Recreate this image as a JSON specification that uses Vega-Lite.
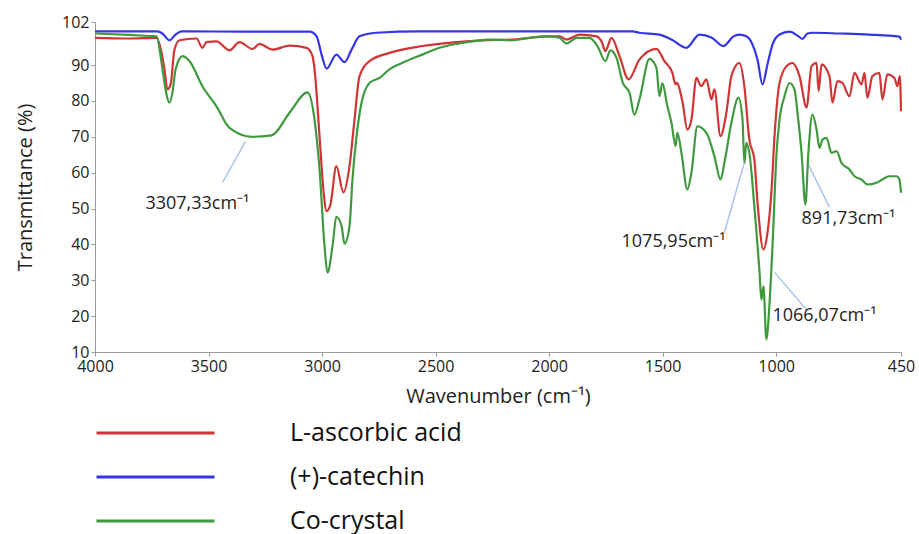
{
  "$schema": "https://vega.github.io/schema/vega-lite/v6.json",
  "width": 806,
  "height": 330,
  "autosize": {"type": "none"},
  "padding": {"left": 95, "top": 22, "right": 18, "bottom": 182},
  "background": "white",
  "config": {
    "view": {"stroke": null},
    "font": "Open Sans",
    "axis": {"grid": false, "domainColor": "#9a9a9a", "tickColor": "#9a9a9a", "labelColor": "#222", "titleColor": "#222", "labelFont": "Open Sans", "titleFont": "Open Sans", "titleFontWeight": "normal"}
  },
  "datasets": {
    "ir": [
      {"s":"(+)-catechin","w":4000,"t":99.4},{"s":"(+)-catechin","w":3725,"t":99.4},{"s":"(+)-catechin","w":3703,"t":98.8},{"s":"(+)-catechin","w":3672,"t":96.9},{"s":"(+)-catechin","w":3645,"t":98.5},{"s":"(+)-catechin","w":3619,"t":99.4},{"s":"(+)-catechin","w":3320,"t":99.3},{"s":"(+)-catechin","w":3055,"t":99.3},{"s":"(+)-catechin","w":3024,"t":98.0},{"s":"(+)-catechin","w":3002,"t":92.9},{"s":"(+)-catechin","w":2980,"t":89.0},{"s":"(+)-catechin","w":2937,"t":92.9},{"s":"(+)-catechin","w":2901,"t":90.8},{"s":"(+)-catechin","w":2870,"t":94.3},{"s":"(+)-catechin","w":2835,"t":98.0},{"s":"(+)-catechin","w":2760,"t":99.0},{"s":"(+)-catechin","w":2571,"t":99.4},{"s":"(+)-catechin","w":1633,"t":99.4},{"s":"(+)-catechin","w":1602,"t":99.0},{"s":"(+)-catechin","w":1514,"t":98.5},{"s":"(+)-catechin","w":1461,"t":97.1},{"s":"(+)-catechin","w":1395,"t":94.8},{"s":"(+)-catechin","w":1338,"t":98.5},{"s":"(+)-catechin","w":1285,"t":97.7},{"s":"(+)-catechin","w":1232,"t":95.3},{"s":"(+)-catechin","w":1188,"t":98.0},{"s":"(+)-catechin","w":1162,"t":98.5},{"s":"(+)-catechin","w":1131,"t":98.0},{"s":"(+)-catechin","w":1104,"t":95.7},{"s":"(+)-catechin","w":1082,"t":91.5},{"s":"(+)-catechin","w":1060,"t":84.6},{"s":"(+)-catechin","w":1038,"t":90.2},{"s":"(+)-catechin","w":1016,"t":95.7},{"s":"(+)-catechin","w":985,"t":98.5},{"s":"(+)-catechin","w":941,"t":99.3},{"s":"(+)-catechin","w":906,"t":98.2},{"s":"(+)-catechin","w":884,"t":97.3},{"s":"(+)-catechin","w":862,"t":98.8},{"s":"(+)-catechin","w":840,"t":99.0},{"s":"(+)-catechin","w":721,"t":98.8},{"s":"(+)-catechin","w":589,"t":98.5},{"s":"(+)-catechin","w":457,"t":97.9},{"s":"(+)-catechin","w":450,"t":97.1},

      {"s":"L-ascorbic acid","w":4000,"t":97.6},{"s":"L-ascorbic acid","w":3848,"t":97.4},{"s":"L-ascorbic acid","w":3729,"t":97.6},{"s":"L-ascorbic acid","w":3707,"t":93.5},{"s":"L-ascorbic acid","w":3694,"t":88.8},{"s":"L-ascorbic acid","w":3681,"t":83.2},{"s":"L-ascorbic acid","w":3667,"t":84.6},{"s":"L-ascorbic acid","w":3650,"t":94.3},{"s":"L-ascorbic acid","w":3628,"t":96.9},{"s":"L-ascorbic acid","w":3553,"t":97.4},{"s":"L-ascorbic acid","w":3527,"t":94.8},{"s":"L-ascorbic acid","w":3509,"t":96.4},{"s":"L-ascorbic acid","w":3465,"t":96.6},{"s":"L-ascorbic acid","w":3408,"t":94.1},{"s":"L-ascorbic acid","w":3364,"t":96.4},{"s":"L-ascorbic acid","w":3306,"t":94.5},{"s":"L-ascorbic acid","w":3276,"t":95.9},{"s":"L-ascorbic acid","w":3218,"t":94.3},{"s":"L-ascorbic acid","w":3143,"t":95.4},{"s":"L-ascorbic acid","w":3068,"t":94.8},{"s":"L-ascorbic acid","w":3042,"t":92.5},{"s":"L-ascorbic acid","w":3033,"t":88.8},{"s":"L-ascorbic acid","w":3011,"t":70.2},{"s":"L-ascorbic acid","w":2994,"t":55.3},{"s":"L-ascorbic acid","w":2980,"t":49.3},{"s":"L-ascorbic acid","w":2963,"t":51.1},{"s":"L-ascorbic acid","w":2937,"t":61.8},{"s":"L-ascorbic acid","w":2906,"t":54.5},{"s":"L-ascorbic acid","w":2879,"t":61.8},{"s":"L-ascorbic acid","w":2857,"t":74.8},{"s":"L-ascorbic acid","w":2835,"t":86.9},{"s":"L-ascorbic acid","w":2791,"t":91.1},{"s":"L-ascorbic acid","w":2703,"t":93.4},{"s":"L-ascorbic acid","w":2558,"t":95.3},{"s":"L-ascorbic acid","w":2408,"t":96.4},{"s":"L-ascorbic acid","w":2293,"t":96.9},{"s":"L-ascorbic acid","w":2161,"t":97.1},{"s":"L-ascorbic acid","w":2011,"t":98.0},{"s":"L-ascorbic acid","w":1954,"t":98.0},{"s":"L-ascorbic acid","w":1923,"t":97.1},{"s":"L-ascorbic acid","w":1866,"t":98.5},{"s":"L-ascorbic acid","w":1791,"t":98.0},{"s":"L-ascorbic acid","w":1769,"t":96.6},{"s":"L-ascorbic acid","w":1752,"t":93.9},{"s":"L-ascorbic acid","w":1725,"t":97.6},{"s":"L-ascorbic acid","w":1690,"t":92.5},{"s":"L-ascorbic acid","w":1650,"t":86.0},{"s":"L-ascorbic acid","w":1602,"t":91.5},{"s":"L-ascorbic acid","w":1527,"t":94.5},{"s":"L-ascorbic acid","w":1492,"t":91.1},{"s":"L-ascorbic acid","w":1457,"t":87.8},{"s":"L-ascorbic acid","w":1443,"t":84.6},{"s":"L-ascorbic acid","w":1439,"t":85.1},{"s":"L-ascorbic acid","w":1412,"t":79.6},{"s":"L-ascorbic acid","w":1391,"t":72.0},{"s":"L-ascorbic acid","w":1373,"t":74.8},{"s":"L-ascorbic acid","w":1351,"t":86.4},{"s":"L-ascorbic acid","w":1330,"t":84.1},{"s":"L-ascorbic acid","w":1307,"t":86.0},{"s":"L-ascorbic acid","w":1285,"t":80.4},{"s":"L-ascorbic acid","w":1272,"t":83.2},{"s":"L-ascorbic acid","w":1245,"t":70.2},{"s":"L-ascorbic acid","w":1219,"t":76.8},{"s":"L-ascorbic acid","w":1197,"t":86.9},{"s":"L-ascorbic acid","w":1162,"t":90.6},{"s":"L-ascorbic acid","w":1140,"t":84.1},{"s":"L-ascorbic acid","w":1118,"t":69.2},{"s":"L-ascorbic acid","w":1096,"t":63.7},{"s":"L-ascorbic acid","w":1082,"t":51.7},{"s":"L-ascorbic acid","w":1056,"t":38.6},{"s":"L-ascorbic acid","w":1038,"t":43.3},{"s":"L-ascorbic acid","w":1020,"t":55.3},{"s":"L-ascorbic acid","w":1007,"t":70.2},{"s":"L-ascorbic acid","w":985,"t":85.0},{"s":"L-ascorbic acid","w":954,"t":89.7},{"s":"L-ascorbic acid","w":928,"t":90.6},{"s":"L-ascorbic acid","w":897,"t":86.9},{"s":"L-ascorbic acid","w":866,"t":78.2},{"s":"L-ascorbic acid","w":844,"t":89.7},{"s":"L-ascorbic acid","w":822,"t":90.6},{"s":"L-ascorbic acid","w":813,"t":82.7},{"s":"L-ascorbic acid","w":800,"t":90.2},{"s":"L-ascorbic acid","w":765,"t":86.9},{"s":"L-ascorbic acid","w":752,"t":79.5},{"s":"L-ascorbic acid","w":730,"t":85.5},{"s":"L-ascorbic acid","w":708,"t":85.0},{"s":"L-ascorbic acid","w":677,"t":81.3},{"s":"L-ascorbic acid","w":655,"t":87.8},{"s":"L-ascorbic acid","w":624,"t":84.6},{"s":"L-ascorbic acid","w":611,"t":87.8},{"s":"L-ascorbic acid","w":598,"t":80.9},{"s":"L-ascorbic acid","w":576,"t":86.9},{"s":"L-ascorbic acid","w":545,"t":87.8},{"s":"L-ascorbic acid","w":532,"t":80.4},{"s":"L-ascorbic acid","w":510,"t":87.4},{"s":"L-ascorbic acid","w":479,"t":86.4},{"s":"L-ascorbic acid","w":466,"t":84.1},{"s":"L-ascorbic acid","w":455,"t":86.9},{"s":"L-ascorbic acid","w":450,"t":77.1},

      {"s":"Co-crystal","w":4000,"t":98.8},{"s":"Co-crystal","w":3848,"t":98.4},{"s":"Co-crystal","w":3760,"t":98.1},{"s":"Co-crystal","w":3729,"t":98.0},{"s":"Co-crystal","w":3707,"t":90.7},{"s":"Co-crystal","w":3694,"t":85.1},{"s":"Co-crystal","w":3685,"t":81.8},{"s":"Co-crystal","w":3672,"t":79.5},{"s":"Co-crystal","w":3659,"t":82.3},{"s":"Co-crystal","w":3645,"t":88.8},{"s":"Co-crystal","w":3615,"t":92.5},{"s":"Co-crystal","w":3584,"t":91.1},{"s":"Co-crystal","w":3527,"t":84.1},{"s":"Co-crystal","w":3465,"t":78.5},{"s":"Co-crystal","w":3408,"t":72.5},{"s":"Co-crystal","w":3306,"t":70.0},{"s":"Co-crystal","w":3223,"t":70.4},{"s":"Co-crystal","w":3143,"t":76.7},{"s":"Co-crystal","w":3064,"t":82.4},{"s":"Co-crystal","w":3033,"t":74.8},{"s":"Co-crystal","w":3011,"t":60.9},{"s":"Co-crystal","w":2989,"t":39.5},{"s":"Co-crystal","w":2976,"t":32.1},{"s":"Co-crystal","w":2954,"t":39.5},{"s":"Co-crystal","w":2937,"t":47.7},{"s":"Co-crystal","w":2914,"t":45.1},{"s":"Co-crystal","w":2901,"t":40.2},{"s":"Co-crystal","w":2879,"t":45.1},{"s":"Co-crystal","w":2866,"t":58.1},{"s":"Co-crystal","w":2848,"t":70.2},{"s":"Co-crystal","w":2826,"t":79.5},{"s":"Co-crystal","w":2791,"t":85.0},{"s":"Co-crystal","w":2747,"t":86.4},{"s":"Co-crystal","w":2703,"t":88.8},{"s":"Co-crystal","w":2628,"t":91.1},{"s":"Co-crystal","w":2558,"t":92.9},{"s":"Co-crystal","w":2483,"t":94.8},{"s":"Co-crystal","w":2408,"t":95.9},{"s":"Co-crystal","w":2337,"t":96.6},{"s":"Co-crystal","w":2262,"t":97.1},{"s":"Co-crystal","w":2161,"t":96.9},{"s":"Co-crystal","w":2086,"t":97.6},{"s":"Co-crystal","w":2011,"t":98.0},{"s":"Co-crystal","w":1954,"t":97.6},{"s":"Co-crystal","w":1923,"t":96.0},{"s":"Co-crystal","w":1879,"t":97.6},{"s":"Co-crystal","w":1822,"t":97.6},{"s":"Co-crystal","w":1787,"t":95.3},{"s":"Co-crystal","w":1752,"t":91.1},{"s":"Co-crystal","w":1730,"t":94.1},{"s":"Co-crystal","w":1703,"t":92.0},{"s":"Co-crystal","w":1675,"t":85.0},{"s":"Co-crystal","w":1646,"t":82.3},{"s":"Co-crystal","w":1624,"t":76.2},{"s":"Co-crystal","w":1602,"t":80.4},{"s":"Co-crystal","w":1558,"t":91.7},{"s":"Co-crystal","w":1527,"t":89.2},{"s":"Co-crystal","w":1514,"t":81.3},{"s":"Co-crystal","w":1501,"t":85.0},{"s":"Co-crystal","w":1479,"t":78.5},{"s":"Co-crystal","w":1461,"t":73.9},{"s":"Co-crystal","w":1443,"t":67.4},{"s":"Co-crystal","w":1435,"t":71.1},{"s":"Co-crystal","w":1417,"t":65.5},{"s":"Co-crystal","w":1391,"t":55.3},{"s":"Co-crystal","w":1373,"t":60.0},{"s":"Co-crystal","w":1347,"t":72.9},{"s":"Co-crystal","w":1307,"t":71.1},{"s":"Co-crystal","w":1272,"t":64.6},{"s":"Co-crystal","w":1245,"t":58.1},{"s":"Co-crystal","w":1228,"t":62.7},{"s":"Co-crystal","w":1197,"t":73.9},{"s":"Co-crystal","w":1166,"t":80.9},{"s":"Co-crystal","w":1148,"t":74.8},{"s":"Co-crystal","w":1140,"t":62.7},{"s":"Co-crystal","w":1131,"t":68.3},{"s":"Co-crystal","w":1118,"t":65.5},{"s":"Co-crystal","w":1096,"t":50.6},{"s":"Co-crystal","w":1073,"t":32.1},{"s":"Co-crystal","w":1065,"t":24.6},{"s":"Co-crystal","w":1056,"t":28.3},{"s":"Co-crystal","w":1043,"t":13.5},{"s":"Co-crystal","w":1029,"t":23.7},{"s":"Co-crystal","w":1016,"t":39.5},{"s":"Co-crystal","w":998,"t":65.5},{"s":"Co-crystal","w":985,"t":74.8},{"s":"Co-crystal","w":963,"t":81.3},{"s":"Co-crystal","w":941,"t":85.0},{"s":"Co-crystal","w":919,"t":83.2},{"s":"Co-crystal","w":906,"t":76.7},{"s":"Co-crystal","w":888,"t":65.5},{"s":"Co-crystal","w":871,"t":51.1},{"s":"Co-crystal","w":858,"t":65.5},{"s":"Co-crystal","w":840,"t":76.2},{"s":"Co-crystal","w":822,"t":72.0},{"s":"Co-crystal","w":809,"t":66.9},{"s":"Co-crystal","w":796,"t":69.2},{"s":"Co-crystal","w":778,"t":69.7},{"s":"Co-crystal","w":756,"t":65.5},{"s":"Co-crystal","w":734,"t":66.0},{"s":"Co-crystal","w":712,"t":62.7},{"s":"Co-crystal","w":677,"t":60.9},{"s":"Co-crystal","w":655,"t":59.0},{"s":"Co-crystal","w":624,"t":58.1},{"s":"Co-crystal","w":598,"t":56.7},{"s":"Co-crystal","w":558,"t":57.2},{"s":"Co-crystal","w":532,"t":58.1},{"s":"Co-crystal","w":501,"t":59.0},{"s":"Co-crystal","w":470,"t":59.0},{"s":"Co-crystal","w":457,"t":58.1},{"s":"Co-crystal","w":450,"t":54.4}
    ],
    "leaders": [
      {"w":3438,"t":57.3,"w2":3337,"t2":68.7},
      {"w":1228,"t":43.3,"w2":1140,"t2":62.8},
      {"w":862,"t":62.8,"w2":765,"t2":50.3},
      {"w":1007,"t":32.2,"w2":866,"t2":21.8}
    ],
    "labels": [
      {"label":"3307,33cm⁻¹","w":3778,"t":51.4},
      {"label":"1075,95cm⁻¹","w":1681,"t":40.8},
      {"label":"891,73cm⁻¹","w":888,"t":47.2},
      {"label":"1066,07cm⁻¹","w":1016,"t":19.9}
    ]
  },
  "encoding": {
    "x": {"field": "w", "type": "quantitative", "title": "Wavenumber (cm⁻¹)",
          "scale": {"domain": [450, 4000], "reverse": true, "nice": false, "zero": false},
          "axis": {"values": [4000, 3500, 3000, 2500, 2000, 1500, 1000, 450], "format": "d", "labelFontSize": 16, "titleFontSize": 20, "tickSize": 4, "labelFlush": false, "labelOverlap": false, "titlePadding": 12}},
    "y": {"field": "t", "type": "quantitative", "title": "Transmittance (%)",
          "scale": {"domain": [10, 102], "nice": false, "zero": false},
          "axis": {"values": [10, 20, 30, 40, 50, 60, 70, 80, 90, 102], "format": "d", "labelFontSize": 16, "titleFontSize": 20, "tickSize": 4, "labelFlush": false, "labelOverlap": false, "titlePadding": 26}}
  },
  "layer": [
    {
      "data": {"name": "leaders"},
      "mark": {"type": "rule", "color": "#a9c4ea", "strokeWidth": 1.5},
      "encoding": {
        "x2": {"field": "w2"},
        "y2": {"field": "t2"}
      }
    },
    {
      "data": {"name": "ir"},
      "mark": {"type": "line", "strokeWidth": 2.2, "interpolate": "monotone"},
      "encoding": {
        "color": {"field": "s", "type": "nominal",
                  "scale": {"domain": ["L-ascorbic acid", "(+)-catechin", "Co-crystal"], "range": ["#d03535", "#3535e6", "#3f9a3f"]},
                  "legend": {"title": null, "orient": "none", "legendX": 0, "legendY": 389, "padding": 0, "direction": "vertical",
                             "symbolType": "stroke", "symbolSize": 13924, "symbolStrokeWidth": 3, "clipHeight": 44, "rowPadding": 0,
                             "labelFontSize": 25, "labelLimit": 500, "labelColor": "#111", "labelOffset": 74, "labelFont": "Open Sans"}}
      }
    },
    {
      "data": {"name": "labels"},
      "mark": {"type": "text", "align": "left", "baseline": "middle", "fontSize": 18, "color": "#222"},
      "encoding": {
        "text": {"field": "label"}
      }
    }
  ]
}
